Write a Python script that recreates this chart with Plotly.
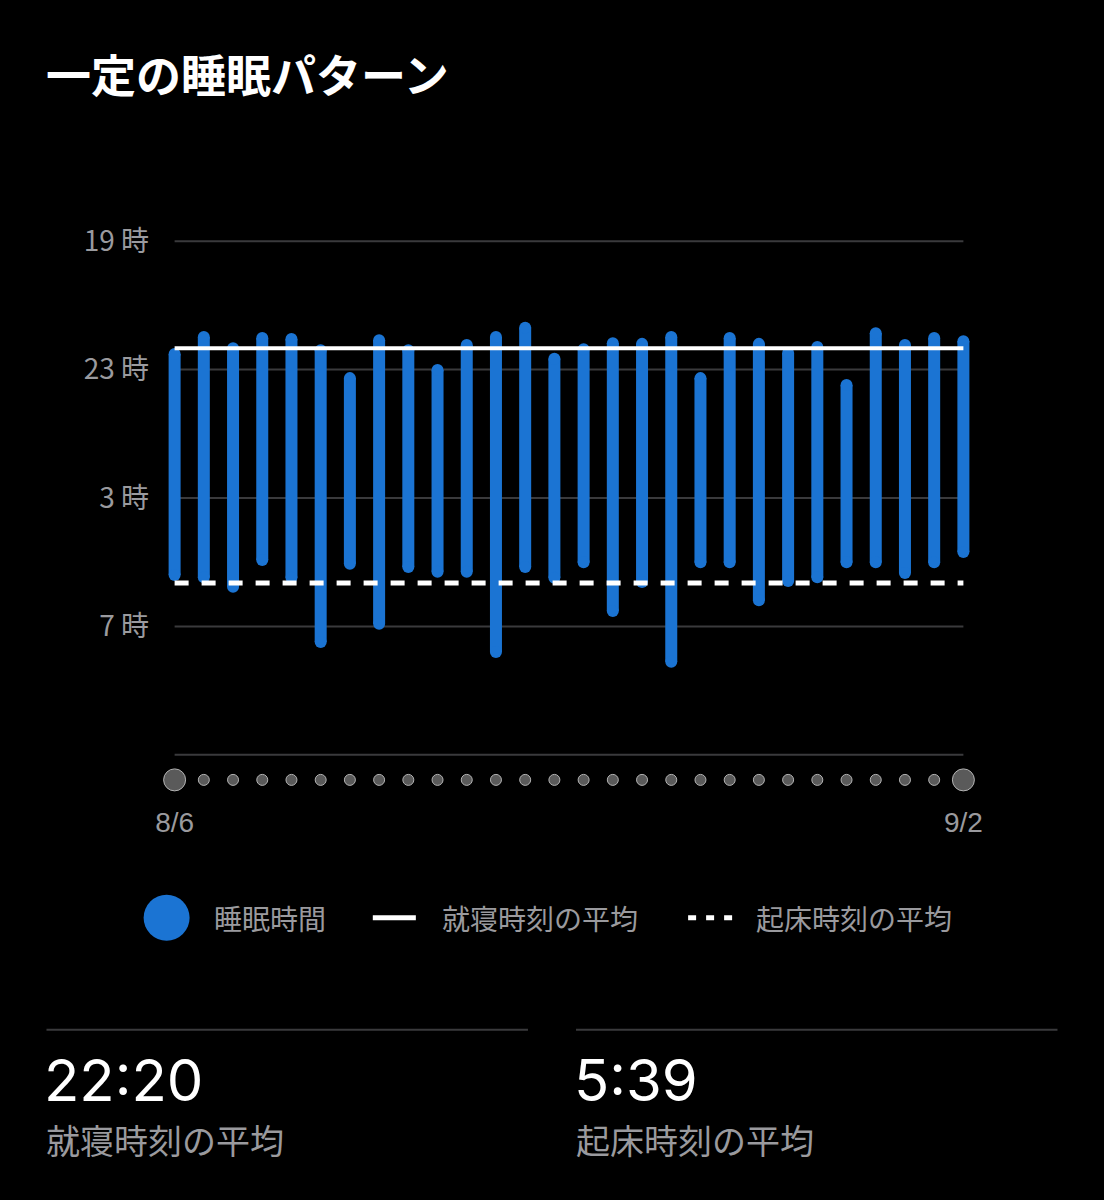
import pandas as pd
import plotly.graph_objects as go

# 8/6 - 9/2, one bar per night
dates = pd.date_range("2024-08-06", "2024-09-02", freq="D")
bed_times = ["22:31", "21:59", "22:20", "22:01", "22:03", "22:24", "23:16",
             "22:05", "22:24", "23:01", "22:14", "21:59", "21:42", "22:40",
             "22:22", "22:11", "22:12", "21:59", "23:16", "22:01", "22:12",
             "22:29", "22:18", "23:29", "21:52", "22:14", "22:01", "22:07"]
wake_times = ["5:24", "5:28", "5:46", "4:56", "5:29", "7:29", "5:03",
              "6:55", "5:09", "5:18", "5:18", "7:48", "5:09", "5:29",
              "5:00", "6:31", "5:37", "8:06", "5:00", "5:00", "6:11",
              "5:35", "5:28", "5:00", "5:00", "5:20", "5:00", "4:41"]
avg_bed = "22:20"
avg_wake = "5:39"
grid_hours = [19, 23, 3, 7, 11]
tick_labels = ["19 時", "23 時", "3 時", "7 時", ""]
date_labels = ["8/6", "9/2"]

W, H = 1104, 1200
L, R, T, B = 160.4, 126.4, 200.8, 396.8
PW, PH = W - L - R, H - T - B
BLUE = "#1b74d3"
GRAY = "#9a9a9e"
JP = "Noto Sans CJK JP"


def to_h(s):
    hh, mm = s.split(":")
    h = int(hh) + int(mm) / 60
    return h + 24 if h < 12 else h


def px(x, y):
    return (x - L) / PW, (H - B - y) / PH


xs, ys = [], []
for d, b, w in zip(dates, bed_times, wake_times):
    xs += [d, d, None]
    ys += [to_h(b), to_h(w), None]

first, last = dates[0], dates[-1]
fig = go.Figure()

# gridlines only across the date span
for g in grid_hours:
    gy = g + 24 if g < 12 else g
    fig.add_trace(go.Scatter(x=[first, last], y=[gy, gy], mode="lines",
                             line=dict(color="#3a3a3c", width=2),
                             hoverinfo="skip", showlegend=False))

fig.add_trace(go.Scatter(x=xs, y=ys, mode="lines+markers",
                         line=dict(color=BLUE, width=12),
                         marker=dict(color=BLUE, size=12),
                         cliponaxis=False, showlegend=False, name="睡眠時間"))

fig.add_trace(go.Scatter(x=[first, last], y=[to_h(avg_bed)] * 2, mode="lines",
                         line=dict(color="white", width=4), showlegend=False))
fig.add_trace(go.Scatter(x=[first, last], y=[to_h(avg_wake)] * 2, mode="lines",
                         line=dict(color="white", width=5, dash="14px,13px"),
                         showlegend=False))

# date dots under the chart
dot_sizes = [22] + [11] * (len(dates) - 2) + [22]
fig.add_trace(go.Scatter(x=list(dates), y=[35.78] * len(dates), mode="markers",
                         marker=dict(color="#808080", size=dot_sizes),
                         cliponaxis=False, showlegend=False, hoverinfo="skip"))

ann = []
shapes = []

ann.append(dict(text="<b>一定の睡眠パターン</b>", x=px(45, 0)[0], y=px(0, 73)[1],
                xref="paper", yref="paper", xanchor="left", yanchor="middle",
                showarrow=False, font=dict(family=JP, size=45, color="white")))

# legend
cx, cy = px(167, 918)
shapes.append(dict(type="circle", xref="paper", yref="paper", xsizemode="pixel",
                   ysizemode="pixel", xanchor=cx, yanchor=cy, x0=-23, x1=23,
                   y0=-23, y1=23, fillcolor=BLUE, line=dict(width=0)))
x0, ly = px(373, 918)
x1, _ = px(416, 918)
shapes.append(dict(type="line", xref="paper", yref="paper", x0=x0, x1=x1,
                   y0=ly, y1=ly, line=dict(color="white", width=5)))
x0, _ = px(688, 918)
x1, _ = px(732, 918)
shapes.append(dict(type="line", xref="paper", yref="paper", x0=x0, x1=x1,
                   y0=ly, y1=ly, line=dict(color="white", width=5, dash="8px,10px")))
for tx, txt in [(212, "睡眠時間"), (440, "就寝時刻の平均"), (754, "起床時刻の平均")]:
    ann.append(dict(text=txt, x=px(tx, 0)[0], y=ly, xref="paper", yref="paper",
                    xanchor="left", yanchor="middle", showarrow=False,
                    font=dict(family=JP, size=28, color=GRAY)))

# summary block
for sx, ex, val, lab in [(47, 528, avg_bed, "就寝時刻の平均"),
                         (576, 1057, avg_wake, "起床時刻の平均")]:
    a, sy = px(sx, 1030)
    b, _ = px(ex, 1030)
    shapes.append(dict(type="line", xref="paper", yref="paper", x0=a, x1=b,
                       y0=sy, y1=sy, line=dict(color="#3a3a3c", width=2)))
    ann.append(dict(text=val, x=px(sx - 4, 0)[0], y=px(0, 1080)[1], xref="paper",
                    yref="paper", xanchor="left", yanchor="middle", showarrow=False,
                    font=dict(family="Inter", size=58, color="white")))
    ann.append(dict(text=lab, x=px(sx - 2, 0)[0], y=px(0, 1140)[1], xref="paper",
                    yref="paper", xanchor="left", yanchor="middle", showarrow=False,
                    font=dict(family=JP, size=34, color=GRAY)))

fig.update_layout(
    width=W, height=H,
    margin=dict(l=L, r=R, t=T, b=B, pad=0),
    paper_bgcolor="black", plot_bgcolor="black",
    showlegend=False,
    annotations=ann, shapes=shapes,
    xaxis=dict(range=[first - pd.Timedelta(hours=12), last + pd.Timedelta(hours=12)],
               showgrid=False, zeroline=False, showline=False,
               tickvals=[first, last], ticktext=date_labels, ticks="",
               tickfont=dict(family="Liberation Sans", size=28, color=GRAY),
               ticklabelstandoff=0),
    yaxis=dict(range=[36.5, 17.75], showgrid=False, zeroline=False, showline=False,
               tickvals=[g + 24 if g < 12 else g for g in grid_hours],
               ticktext=tick_labels, ticks="",
               tickfont=dict(family=JP, size=28, color=GRAY),
               ticklabelstandoff=10),
)

fig.write_html("out.html", config={"displayModeBar": False},
               post_script="document.body.style.margin='0';"
                           "document.body.style.background='black';")
